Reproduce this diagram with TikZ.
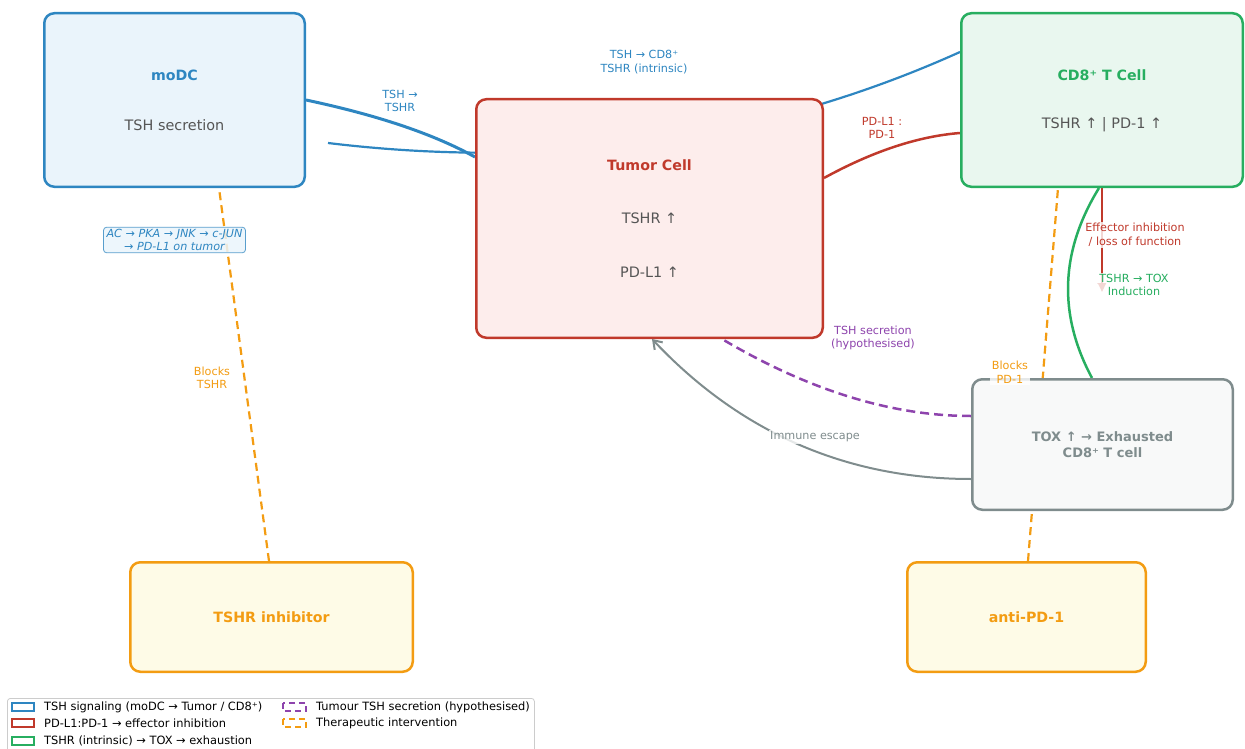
\documentclass[tikz,border=0pt]{standalone}
\usepackage{fontspec}
\setmainfont{DejaVu Sans}
\usetikzlibrary{arrows.meta,calc}

\definecolor{cBlue}{HTML}{2E86C1}
\definecolor{cBlueFill}{HTML}{EAF4FB}
\definecolor{cRed}{HTML}{C0392B}
\definecolor{cRedFill}{HTML}{FDEDEC}
\definecolor{cGreen}{HTML}{27AE60}
\definecolor{cGreenFill}{HTML}{E9F7EF}
\definecolor{cGrey}{HTML}{7F8C8D}
\definecolor{cGreyFill}{HTML}{F8F9F9}
\definecolor{cOrange}{HTML}{F39C12}
\definecolor{cOrangeFill}{HTML}{FEFBE7}
\definecolor{cPurple}{HTML}{8E44AD}
\definecolor{txtGrey}{HTML}{555555}
\definecolor{legendEdge}{HTML}{CCCCCC}

\pgfdeclarelayer{bg}
\pgfsetlayers{bg,main}

\tikzset{
  cell/.style={draw, rounded corners=10pt, line width=2.5pt, inner sep=0pt},
  title/.style={font=\bfseries\fontsize{14.2}{17}\selectfont},
  body/.style={font=\fontsize{14.4}{17}\selectfont, text=txtGrey},
  tagline/.style={font=\fontsize{11.2}{13.5}\selectfont, align=center,
    fill=white, fill opacity=0.8, text opacity=1, inner sep=1.5pt},
  therapy/.style={draw=cOrange, line width=2.2pt, dash pattern=on 8pt off 5pt},
  secretion/.style={draw=cPurple, line width=2.5pt, dash pattern=on 9pt off 5pt},
  legtext/.style={anchor=west, font=\fontsize{11.4}{13}\selectfont, inner sep=0pt},
  legpatch/.style={line width=2.4pt, fill=white}
}

\begin{document}
\begin{tikzpicture}[x=1pt,y=-1pt]
\useasboundingbox (0,0) rectangle (1245,749);
\clip (0,0) rectangle (1245,749);

% ---- cells ----
\node[cell, draw=cBlue, fill=cBlueFill, minimum width=260.5, minimum height=173.5] (moDC) at (174.5,100) {};
\node[cell, draw=cRed, fill=cRedFill, minimum width=346.5, minimum height=238.5] (Tumor) at (649.5,218.5) {};
\node[cell, draw=cGreen, fill=cGreenFill, minimum width=281.5, minimum height=173.5] (CD8) at (1102,100) {};
\node[cell, draw=cGrey, fill=cGreyFill, minimum width=260.5, minimum height=130.5] (TOX) at (1102.5,444.5) {};
\node[cell, draw=cOrange, fill=cOrangeFill, minimum width=282.5, minimum height=109.5] (inhib) at (271.5,617) {};
\node[cell, draw=cOrange, fill=cOrangeFill, minimum width=238.5, minimum height=109.5] (antiPD) at (1026.5,617) {};

% ---- cell texts ----
\node[title, text=cBlue] (moDCt) at (174.5,75) {moDC};
\node[body] (moDCb) at (174.5,125) {TSH secretion};
\node[title, text=cRed] (Tumort) at (649.5,165) {Tumor Cell};
\node[body] (Tumorb1) at (649.5,218) {TSHR ↑};
\node[body] (Tumorb2) at (649.5,272) {PD-L1 ↑};
\node[title, text=cGreen] (CD8t) at (1102,75) {CD8⁺ T Cell};
\node[body] (CD8b) at (1102,125) {TSHR ↑ | PD-1 ↑};
\node[font=\bfseries\fontsize{13}{15.5}\selectfont, text=cGrey, align=center] (TOXt) at (1102.5,444.5) {TOX ↑ → Exhausted\\CD8⁺ T cell};
\node[title, text=cOrange] (inhibt) at (271.5,617) {TSHR inhibitor};
\node[title, text=cOrange] (antiPDt) at (1026.5,617) {anti-PD-1};

% ---- connectors (behind the cells) ----
\begin{pgfonlayer}{bg}
  \coordinate (dcOut) at (328,143);
  \coordinate (effEnd) at (1102,292);
  % TSH to CD8+ TSHR, passing behind the tumour cell
  \draw[draw=cBlue, line width=2.2pt] (dcOut) .. controls (554,170.3) and (764.7,140) .. ([yshift=48pt]CD8.west);
  % TSH to tumour TSHR
  \draw[draw=cBlue, line width=3pt] (moDC.east) .. controls (376.7,115) and (433,133.7) .. ([yshift=61.5pt]Tumor.west);
  % PD-L1 : PD-1
  \draw[draw=cRed, line width=2.5pt] ([yshift=40.5pt]Tumor.east) .. controls (872.7,151.3) and (918,136.3) .. ([yshift=-33pt]CD8.west);
  % effector inhibition
  \draw[draw=cRed, line width=2pt, -{Triangle[length=9pt,width=8pt]}] (CD8.south) -- (effEnd);
  % TSHR to TOX
  \draw[draw=cGreen, line width=2.5pt] ([xshift=-3pt]CD8.south) .. controls (1060,251.3) and (1058,314.7) .. ([xshift=-10.5pt]TOX.north);
  % therapies
  \draw[therapy] ([xshift=-2.5pt]inhib.north) -- ([xshift=44.5pt]moDC.south);
  \draw[therapy] ([xshift=1.5pt]antiPD.north) -- ([xshift=-44pt]CD8.south);
  % hypothesised tumour TSH secretion
  \draw[secretion] ([yshift=28.5pt]TOX.west) .. controls (891.7,416) and (808.7,390.3) .. ([xshift=72.5pt]Tumor.south);
  % immune escape
  \draw[draw=cGrey, line width=2pt, -{Straight Barb[length=8pt,width=11pt]}] ([yshift=-34.5pt]TOX.west) .. controls (846.3,479) and (740,432.3) .. ([xshift=2.5pt]Tumor.south);
\end{pgfonlayer}

% ---- connector labels ----
\node[tagline, text=cBlue] (l1) at (400,101) {TSH →\\TSHR};
\node[tagline, text=cBlue] (l2) at (644,62) {TSH → CD8⁺\\TSHR (intrinsic)};
\node[tagline, text=cRed] (l3) at (882,128) {PD-L1 :\\PD-1};
\node[tagline, text=cRed] (l4) at (1135,235) {Effector inhibition\\/ loss of function};
\node[tagline, text=cGreen] (l5) at (1134,285) {TSHR → TOX\\Induction};
\node[tagline, text=cPurple] (l6) at (873,338) {TSH secretion\\(hypothesised)};
\node[tagline, text=cGrey] (l7) at (815,437) {Immune escape};
\node[tagline, text=cOrange] (l8) at (1010,372) {Blocks\\PD-1};
\node[tagline, text=cOrange] (l9) at (212,378) {Blocks\\TSHR};
\node[font=\itshape\fontsize{11.2}{13}\selectfont, align=center, text=cBlue,
      draw=cBlue!80, line width=0.8pt, rounded corners=3pt, fill=cBlueFill, fill opacity=0.85,
      text opacity=1, inner xsep=3pt, inner ysep=2pt] (path) at (174.5,240)
      {AC → PKA → JNK → c-JUN\\→ PD-L1 on tumor};

% ---- legend ----
\node[draw=legendEdge, line width=0.8pt, rounded corners=3pt, fill=white, anchor=north west,
      minimum width=527, minimum height=70, inner sep=0pt] (legend) at (7,698) {};
\draw[legpatch, draw=cBlue] (12,703) rectangle (34,711);
\draw[legpatch, draw=cRed] (12,719) rectangle (34,727);
\draw[legpatch, draw=cGreen] (12,737) rectangle (34,745);
\draw[legpatch, draw=cPurple, dash pattern=on 6pt off 4pt] (283,703) rectangle (306,711);
\draw[legpatch, draw=cOrange, dash pattern=on 6pt off 4pt] (283,719) rectangle (306,727);
\node[legtext] (lg1) at (44,707) {TSH signaling (moDC → Tumor / CD8⁺)};
\node[legtext] (lg2) at (44,723) {PD-L1:PD-1 → effector inhibition};
\node[legtext] (lg3) at (44,741) {TSHR (intrinsic) → TOX → exhaustion};
\node[legtext] (lg4) at (316,707) {Tumour TSH secretion (hypothesised)};
\node[legtext] (lg5) at (316,723) {Therapeutic intervention};
\end{tikzpicture}
\end{document}
